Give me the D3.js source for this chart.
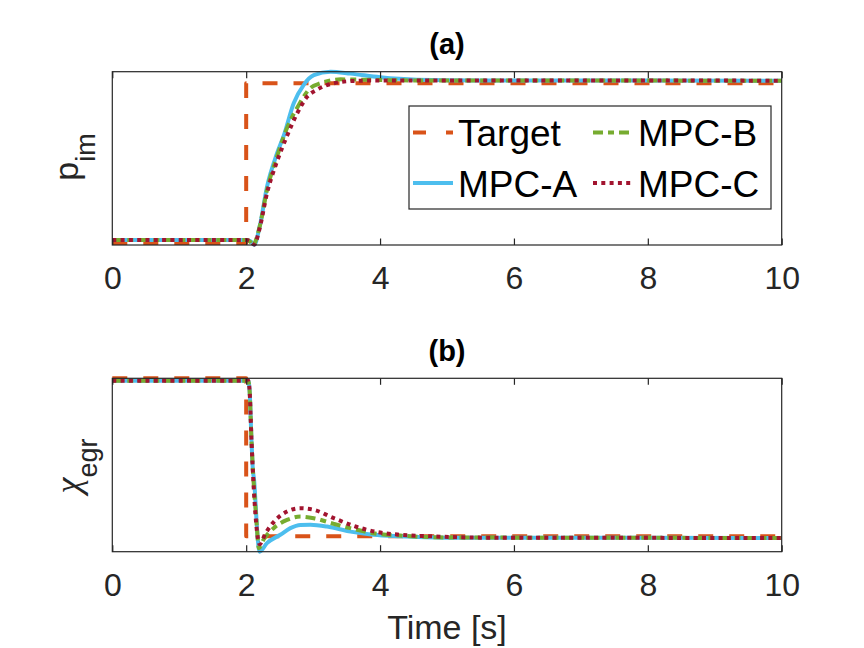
<!DOCTYPE html>
<html>
<head>
<meta charset="utf-8">
<script src="https://cdn.jsdelivr.net/npm/d3@7"></script>
<style>
  body { margin: 0; background: #fff; }
  svg { display: block; font-family: "Liberation Sans", Arial, sans-serif; }
</style>
</head>
<body>
<div id="chart"></div>
<script>
// x ticks (time in s)
const timeTicks = [0, 2, 4, 6, 8, 10];

// (a) intake manifold pressure, normalised [t, value]
const targetPim = [[0, 0], [2, 0], [2, 1], [10, 1]];
const mpcAPim = [[0, 0.019], [2.0, 0.019], [2.07, 0.01], [2.12, -0.012], [2.2, 0.1], [2.31, 0.35], [2.46, 0.56],
  [2.56, 0.67], [2.71, 0.875], [2.86, 0.99], [3.01, 1.05], [3.26, 1.072], [3.56, 1.06], [4.0, 1.037],
  [4.55, 1.022], [5.5, 1.017], [10, 1.016]];
const mpcBPim = [[0, 0.019], [2.0, 0.019], [2.06, 0.008], [2.1, -0.0125], [2.2, 0.1], [2.31, 0.33], [2.46, 0.54],
  [2.61, 0.72], [2.76, 0.845], [2.96, 0.97], [3.11, 1.0], [3.41, 1.024], [4.0, 1.02], [4.6, 1.017], [10, 1.016]];
const mpcCPim = [[0, 0.019], [2.0, 0.019], [2.07, 0.008], [2.12, -0.01], [2.2, 0.09], [2.31, 0.31], [2.46, 0.51],
  [2.61, 0.67], [2.76, 0.81], [2.91, 0.915], [3.06, 0.96], [3.31, 1.0], [3.6, 1.014], [4.0, 1.017], [10, 1.016]];

// (b) EGR fraction, normalised [t, value]
const targetEgr = [[0, 1], [2, 1], [2, 0], [10, 0]];
const mpcAEgr = [[0, 0.985], [2.03, 0.985], [2.05, 0.93], [2.08, 0.6], [2.1, 0.42], [2.12, 0.35], [2.14, 0.21],
  [2.17, 0.0], [2.2, -0.097], [2.31, -0.043], [2.51, 0.01], [2.66, 0.052], [2.81, 0.072], [2.96, 0.073],
  [3.21, 0.062], [3.56, 0.03], [3.9, 0.01], [4.3, 0.0], [5, -0.008], [10, -0.01]];
const mpcBEgr = [[0, 0.985], [2.03, 0.985], [2.05, 0.93], [2.08, 0.6], [2.11, 0.35], [2.15, 0.12], [2.19, -0.075],
  [2.26, -0.02], [2.41, 0.052], [2.61, 0.104], [2.81, 0.125], [3.01, 0.115], [3.31, 0.079], [3.61, 0.046],
  [3.9, 0.02], [4.3, 0.005], [5, -0.007], [10, -0.01]];
const mpcCEgr = [[0, 0.985], [2.03, 0.985], [2.05, 0.93], [2.08, 0.6], [2.11, 0.33], [2.15, 0.08], [2.2, -0.05],
  [2.29, 0.02], [2.44, 0.104], [2.61, 0.157], [2.81, 0.178], [3.01, 0.168], [3.31, 0.115], [3.61, 0.066],
  [3.96, 0.027], [4.3, 0.01], [4.8, 0.0], [5.5, -0.008], [10, -0.01]];

const seriesNames = ["Target", "MPC-A", "MPC-B", "MPC-C"];

// Linienstile wie in MATLAB
const styles = {
  "Target": { color: "#D95319", dash: "15,16" },
  "MPC-A": { color: "#4DBEEE", dash: null },
  "MPC-B": { color: "#77AC30", dash: "10,5,6,5" },
  "MPC-C": { color: "#A2142F", dash: "4,4.3" }
};

const W = 864, H = 648;
const left = 112.3, right = 781.7;
const axColor = "#262626";

const svg = d3.select("#chart").append("svg")
  .attr("width", W)
  .attr("height", H);

svg.append("rect").attr("width", W).attr("height", H).attr("fill", "#fff");

const x = d3.scaleLinear().domain([0, 10]).range([left, right]);

function drawPanel(top, bottom, title, data) {
  const all = data.flat();
  const y = d3.scaleLinear()
    .domain([d3.min(all, d => d[1]), d3.max(all, d => d[1])])
    .range([bottom, top]);

  const g = svg.append("g");

  const line = d3.line().x(d => x(d[0])).y(d => y(d[1])).curve(d3.curveMonotoneX);
  const stepLine = d3.line().x(d => x(d[0])).y(d => y(d[1]));

  data.forEach((s, i) => {
    const st = styles[seriesNames[i]];
    g.append("path")
      .datum(s)
      .attr("d", i === 0 ? stepLine : line)
      .attr("fill", "none")
      .attr("stroke", st.color)
      .attr("stroke-width", 4)
      .attr("stroke-dasharray", st.dash)
      .attr("stroke-linejoin", "round");
  });

  // Box
  g.append("rect")
    .attr("x", left).attr("y", top)
    .attr("width", right - left).attr("height", bottom - top)
    .attr("fill", "none")
    .attr("stroke", axColor)
    .attr("stroke-width", 1.2);

  // Achsen unten und oben, Ticks nach innen
  const xAxisBottom = d3.axisBottom(x).tickValues(timeTicks).tickSizeInner(-6.5).tickSizeOuter(0).tickFormat(d3.format("d"));
  const gx = g.append("g").attr("transform", `translate(0,${bottom})`).call(xAxisBottom);
  gx.select(".domain").remove();
  gx.selectAll("line").attr("stroke", axColor).attr("stroke-width", 1.2);
  gx.selectAll("text")
    .attr("y", 44).attr("dy", null)
    .attr("fill", axColor)
    .style("font-size", "32px")
    .style("font-family", "'Liberation Sans', Arial, sans-serif");

  const xAxisTop = d3.axisTop(x).tickValues(timeTicks).tickSizeInner(-6.5).tickSizeOuter(0).tickFormat("");
  const gt = g.append("g").attr("transform", `translate(0,${top})`).call(xAxisTop);
  gt.select(".domain").remove();
  gt.selectAll("line").attr("stroke", axColor).attr("stroke-width", 1.2);

  // Titel
  g.append("text")
    .attr("x", (left + right) / 2)
    .attr("y", top - 17.5)
    .attr("text-anchor", "middle")
    .attr("font-weight", "bold")
    .attr("font-size", "29px")
    .attr("fill", "#000")
    .text(title);

  return g;
}

const gA = drawPanel(71.7, 245, "(a)", [targetPim, mpcAPim, mpcBPim, mpcCPim]);
const gB = drawPanel(378.3, 551.7, "(b)", [targetEgr, mpcAEgr, mpcBEgr, mpcCEgr]);

// y-Beschriftungen mit Index
const yl1 = svg.append("text")
  .attr("transform", "translate(77.7,157) rotate(-90)")
  .attr("text-anchor", "middle")
  .attr("fill", axColor)
  .attr("font-size", "34px");
yl1.append("tspan").text("p");
yl1.append("tspan").attr("font-size", "27px").attr("dy", 17).text("im");

const yl2 = svg.append("text")
  .attr("transform", "translate(80,466) rotate(-90)")
  .attr("text-anchor", "middle")
  .attr("fill", axColor)
  .attr("font-size", "34px");
yl2.append("tspan")
  .attr("font-family", "'Liberation Serif', 'DejaVu Serif', serif")
  .attr("font-style", "italic")
  .attr("font-size", "36px")
  .text("χ");
yl2.append("tspan").attr("font-size", "27px").attr("dy", 17).text("egr");

// x-Beschriftung
svg.append("text")
  .attr("x", (left + right) / 2)
  .attr("y", 639)
  .attr("text-anchor", "middle")
  .attr("fill", axColor)
  .attr("font-size", "34px")
  .text("Time [s]");

// Legende
const legend = svg.append("g");
legend.append("rect")
  .attr("x", 409).attr("y", 106)
  .attr("width", 362).attr("height", 103)
  .attr("fill", "#fff")
  .attr("stroke", axColor)
  .attr("stroke-width", 1.2);

const legendPos = [
  { name: "Target", x: 413, y: 132.5 },
  { name: "MPC-B", x: 593, y: 132.5 },
  { name: "MPC-A", x: 413, y: 183 },
  { name: "MPC-C", x: 593, y: 183 }
];

legendPos.forEach(p => {
  const st = styles[p.name];
  legend.append("line")
    .attr("x1", p.x).attr("x2", p.x + 40)
    .attr("y1", p.y).attr("y2", p.y)
    .attr("stroke", st.color)
    .attr("stroke-width", 4)
    .attr("stroke-dasharray", p.name === "Target" ? "13,20" : st.dash);
  legend.append("text")
    .attr("x", p.x + 45)
    .attr("y", p.y + 13.5)
    .attr("font-size", "37px")
    .attr("fill", "#000")
    .text(p.name);
});
</script>
</body>
</html>
